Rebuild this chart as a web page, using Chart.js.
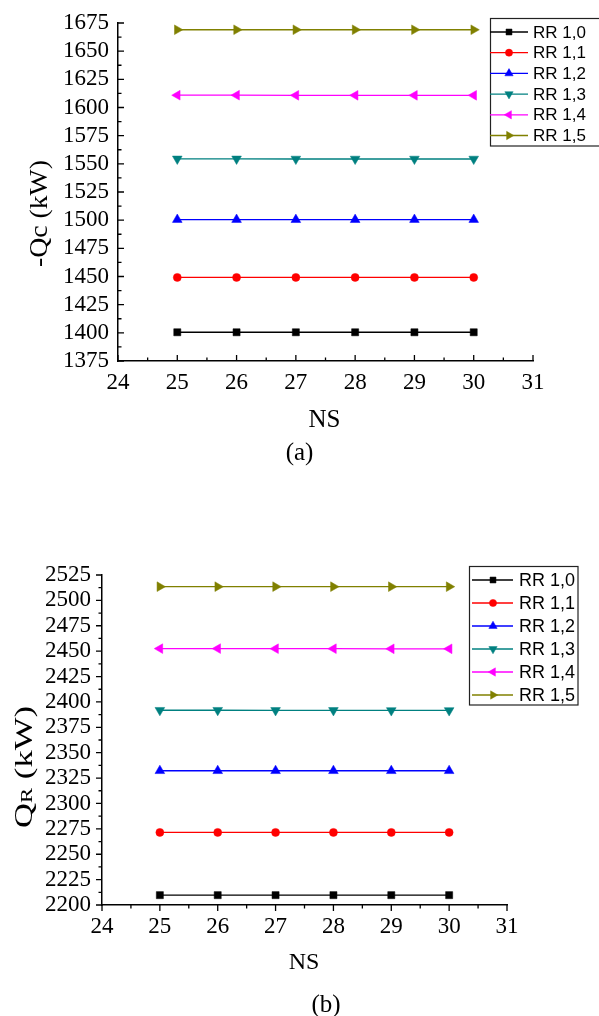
<!DOCTYPE html>
<html><head><meta charset="utf-8">
<script src="https://cdn.jsdelivr.net/npm/chart.js@4/dist/chart.umd.min.js"></script>
<style>
html,body{margin:0;padding:0;background:#fff;width:599px;height:1016px;overflow:hidden}
#c1{position:absolute;left:0;top:0}
#c2{position:absolute;left:0;top:470px}
</style></head><body>
<canvas id="c1" width="599" height="470"></canvas>
<canvas id="c2" width="599" height="546"></canvas>
<script>
// ---- data ----
const NS = [25, 26, 27, 28, 29, 30];
const seriesNames = ['RR 1,0', 'RR 1,1', 'RR 1,2', 'RR 1,3', 'RR 1,4', 'RR 1,5'];
// (a) -Qc (kW)
const qcRR10 = [1400.5, 1400.5, 1400.5, 1400.5, 1400.5, 1400.5];
const qcRR11 = [1449.2, 1449.2, 1449.2, 1449.2, 1449.2, 1449.2];
const qcRR12 = [1500.5, 1500.5, 1500.4, 1500.4, 1500.5, 1500.5];
const qcRR13 = [1554.4, 1554.4, 1554.3, 1554.3, 1554.3, 1554.3];
const qcRR14 = [1610.9, 1610.9, 1610.8, 1610.8, 1610.8, 1610.8];
const qcRR15 = [1669.0, 1669.0, 1669.0, 1669.0, 1669.0, 1669.0];
// (b) QR (kW)
const qrRR10 = [2209.7, 2209.7, 2209.7, 2209.7, 2209.7, 2209.7];
const qrRR11 = [2271.5, 2271.5, 2271.5, 2271.5, 2271.5, 2271.5];
const qrRR12 = [2332.2, 2332.2, 2332.2, 2332.2, 2332.2, 2332.2];
const qrRR13 = [2391.8, 2391.8, 2391.7, 2391.7, 2391.6, 2391.6];
const qrRR14 = [2452.5, 2452.5, 2452.4, 2452.4, 2452.3, 2452.3];
const qrRR15 = [2513.5, 2513.5, 2513.5, 2513.5, 2513.5, 2513.5];
const xTicks = [24, 25, 26, 27, 28, 29, 30, 31];
const yTicksA = [1375, 1400, 1425, 1450, 1475, 1500, 1525, 1550, 1575, 1600, 1625, 1650, 1675];
const yTicksB = [2200, 2225, 2250, 2275, 2300, 2325, 2350, 2375, 2400, 2425, 2450, 2475, 2500, 2525];

// ---- styles ----
const colors = ['#000000', '#ff0000', '#0000ff', '#008080', '#ff00ff', '#808000'];
const pStyles = ['rect', 'circle', 'triangle', 'triangle', 'triangle', 'triangle'];
const pRot = [0, 0, 0, 180, 270, 90];
const pRad = [5.0, 4.0, 5.6, 5.6, 5.6, 5.6];
const SERIF = '"Liberation Serif","Times New Roman",serif';
const SANS = '"Liberation Sans",Arial,sans-serif';

function makeDatasets(arrs) {
  return arrs.map((arr, i) => ({
    label: seriesNames[i],
    data: NS.map((x, j) => ({x: x, y: arr[j]})),
    borderColor: colors[i],
    backgroundColor: colors[i],
    borderWidth: 1.3,
    pointStyle: pStyles[i],
    rotation: pRot[i],
    pointRadius: pRad[i],
    pointHoverRadius: pRad[i],
    pointBorderWidth: 0.5,
    pointBackgroundColor: colors[i],
    pointBorderColor: colors[i],
    tension: 0,
    clip: false
  }));
}

function drawMarker(ctx, i, x, y, r) {
  ctx.fillStyle = colors[i];
  ctx.strokeStyle = colors[i];
  ctx.lineWidth = 0.5;
  if (Chart.helpers && Chart.helpers.drawPoint) {
    Chart.helpers.drawPoint(ctx, {pointStyle: pStyles[i], rotation: pRot[i], radius: r, borderWidth: 0.5}, x, y);
  }
}

function makeDecor(cfg) {
  return {
    id: 'decor',
    afterDraw(chart) {
      const ctx = chart.ctx;
      const xs = chart.scales.x, ys = chart.scales.y;
      const ca = chart.chartArea;
      const dir = cfg.tickIn ? -1 : 1;
      ctx.save();
      ctx.strokeStyle = '#000';
      ctx.lineWidth = 1.3;
      ctx.beginPath();
      xTicks.forEach((v, k) => {
        const px = xs.getPixelForValue(v);
        ctx.moveTo(px, ca.bottom); ctx.lineTo(px, ca.bottom + dir * 6);
        if (k < xTicks.length - 1) {
          const pm = xs.getPixelForValue(v + 0.5);
          ctx.moveTo(pm, ca.bottom); ctx.lineTo(pm, ca.bottom + dir * 3.5);
        }
      });
      cfg.yTicks.forEach((v, k) => {
        const py = ys.getPixelForValue(v);
        ctx.moveTo(ca.left, py); ctx.lineTo(ca.left - dir * 6, py);
        if (k < cfg.yTicks.length - 1) {
          const pm = ys.getPixelForValue(v + 12.5);
          ctx.moveTo(ca.left, pm); ctx.lineTo(ca.left - dir * 3.5, pm);
        }
      });
      ctx.stroke();

      // legend
      const L = cfg.legend;
      ctx.lineWidth = 1.2;
      ctx.strokeStyle = '#222';
      ctx.strokeRect(L.x0, L.y0, L.x1 - L.x0, L.y1 - L.y0);
      ctx.font = L.font;
      ctx.textBaseline = 'middle';
      ctx.textAlign = 'left';
      seriesNames.forEach((name, i) => {
        const y = L.row0 + i * L.step;
        ctx.strokeStyle = colors[i];
        ctx.lineWidth = 1.3;
        ctx.beginPath(); ctx.moveTo(L.lx0, y); ctx.lineTo(L.lx1, y); ctx.stroke();
        drawMarker(ctx, i, L.mx, y, L.mr[i]);
        ctx.fillStyle = '#000';
        ctx.fillText(name, L.tx, y + 1);
      });

      // titles
      ctx.fillStyle = '#000';
      ctx.textAlign = 'center';
      ctx.textBaseline = 'middle';
      cfg.texts.forEach(t => {
        ctx.font = t.font;
        ctx.fillText(t.text, t.x, t.y);
      });
      // rotated y title
      const yt = cfg.yTitle;
      ctx.save();
      ctx.translate(yt.x, yt.y);
      ctx.rotate(-Math.PI / 2);
      let total = 0;
      yt.parts.forEach(p => { ctx.font = p.font; total += ctx.measureText(p.text).width; });
      const sc = yt.len / total;
      ctx.scale(sc, 1);
      let cx = -total / 2;
      ctx.textAlign = 'left';
      ctx.textBaseline = 'alphabetic';
      yt.parts.forEach(p => {
        ctx.font = p.font;
        ctx.fillText(p.text, cx, yt.base);
        cx += ctx.measureText(p.text).width;
      });
      ctx.restore();
      ctx.restore();
    }
  };
}

function makeChart(id, arrs, yMin, yMax, pad, yWidth, xHeight, tickPadY, tickPadX, decorCfg) {
  return new Chart(document.getElementById(id), {
    type: 'line',
    data: {datasets: makeDatasets(arrs)},
    options: {
      responsive: false,
      animation: false,
      devicePixelRatio: 1,
      layout: {padding: pad},
      plugins: {legend: {display: false}, tooltip: {enabled: false}},
      scales: {
        x: {
          type: 'linear', min: xTicks[0], max: xTicks[xTicks.length - 1],
          afterBuildTicks: s => { s.ticks = xTicks.map(v => ({value: v})); },
          afterFit: s => { s.height = xHeight; },
          grid: {display: false, drawTicks: false},
          border: {display: true, color: '#000', width: 1.5},
          ticks: {color: '#000', font: {family: SERIF, size: 23}, padding: tickPadX, maxRotation: 0, autoSkip: false,
            callback: v => String(v)}
        },
        y: {
          type: 'linear', min: yMin, max: yMax,
          afterBuildTicks: s => { s.ticks = decorCfg.yTicks.map(v => ({value: v})); },
          afterFit: s => { s.width = yWidth; },
          grid: {display: false, drawTicks: false},
          border: {display: true, color: '#000', width: 1.5},
          ticks: {color: '#000', font: {family: SERIF, size: 23}, padding: tickPadY, autoSkip: false,
            callback: v => String(v)}
        }
      }
    },
    plugins: [makeDecor(decorCfg)]
  });
}

makeChart('c1', [qcRR10, qcRR11, qcRR12, qcRR13, qcRR14, qcRR15], 1375, 1675,
  {left: 0, right: 66, top: 23, bottom: 0}, 118, 109, 9, 8, {
    tickIn: true,
    yTicks: yTicksA,
    legend: {x0: 490.5, y0: 18.5, x1: 605, y1: 146, row0: 32, step: 20.7, lx0: 490, lx1: 528, mx: 509, tx: 533,
      font: '17px ' + SANS, mr: [4.2, 3.6, 4.8, 4.8, 4.8, 4.8]},
    texts: [
      {text: 'NS', x: 324.5, y: 420, font: '25px ' + SERIF},
      {text: '(a)', x: 299.5, y: 453, font: '25px ' + SERIF}
    ],
    yTitle: {x: 38, y: 213.5, len: 107, base: 9, parts: [{text: '-Qc (kW)', font: '26px ' + SERIF}]}
  });

makeChart('c2', [qrRR10, qrRR11, qrRR12, qrRR13, qrRR14, qrRR15], 2200, 2525,
  {left: 0, right: 92, top: 105, bottom: 0}, 102, 111, 11, 8, {
    tickIn: false,
    yTicks: yTicksB,
    legend: {x0: 469.5, y0: 96.5, x1: 578, y1: 235, row0: 110, step: 23, lx0: 472, lx1: 513, mx: 493, tx: 519,
      font: '18px ' + SANS, mr: [4.2, 3.6, 4.8, 4.8, 4.8, 4.8]},
    texts: [
      {text: 'NS', x: 304, y: 493, font: '24px ' + SERIF},
      {text: '(b)', x: 326, y: 535, font: '25px ' + SERIF}
    ],
    yTitle: {x: 23, y: 297, len: 122, base: 9, parts: [
      {text: 'Q', font: '26px ' + SERIF}, {text: 'R', font: '17px ' + SERIF}, {text: ' (kW)', font: '26px ' + SERIF}]}
  });
</script>
</body></html>
